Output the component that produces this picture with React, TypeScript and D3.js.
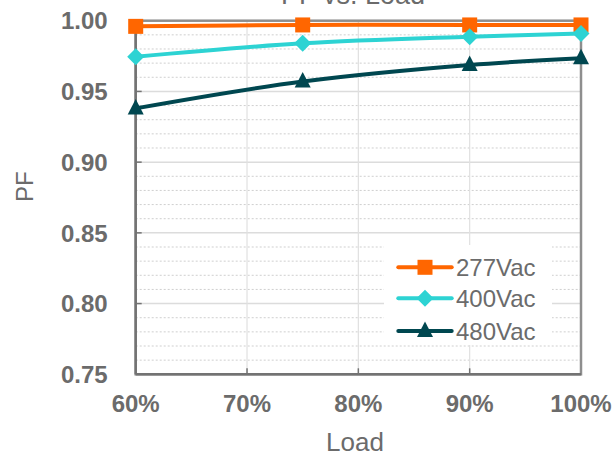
import React from "react";
import * as d3 from "d3";

const loads = [0.6, 0.75, 0.9, 1.0];
const series277 = [0.996, 0.997, 0.997, 0.997];
const series400 = [0.9745, 0.984, 0.9887, 0.991];
const series480 = [0.938, 0.957, 0.9687, 0.9734];
const seriesNames = ["277Vac", "400Vac", "480Vac"];
const xTicks = [0.6, 0.7, 0.8, 0.9, 1.0];
const yTicks = [0.75, 0.8, 0.85, 0.9, 0.95, 1.0];
const yMinor = d3.range(76, 100).map((v) => v / 100);

const W = 612;
const H = 457;
const L = 135.7, R = 581, T = 20.7, B = 374.3;
const colors = ["#FF6600", "#2DD3D3", "#004750"];
const textGray = "#6b6b6b";

function Marker({ kind, x, y, color }: { kind: number; x: number; y: number; color: string }) {
  if (kind === 0) return <rect x={x - 7.5} y={y - 7.5} width={15} height={15} fill={color} />;
  if (kind === 1)
    return <path d={`M${x},${y - 8.5}L${x + 8.5},${y}L${x},${y + 8.5}L${x - 8.5},${y}Z`} fill={color} />;
  return <path d={`M${x},${y - 9.5}L${x + 8},${y + 6}L${x - 8},${y + 6}Z`} fill={color} />;
}

export default function App() {
  const x = d3.scaleLinear().domain([0.6, 1.0]).range([L, R]);
  const y = d3.scaleLinear().domain([0.75, 1.0]).range([B, T]);
  const all = [series277, series400, series480];
  const line = d3
    .line<number>()
    .x((_, i) => x(loads[i]))
    .y((d) => y(d))
    .curve(d3.curveCatmullRom.alpha(0.5));
  const font = "Arial, 'Liberation Sans', sans-serif";
  return (
    <svg width={W} height={H} style={{ position: "absolute", left: 0, top: 0 }} fontFamily={font}>
      <rect x={0} y={0} width={W} height={H} fill="#fff" />
      {yMinor
        .filter((v) => Math.round(v * 100) % 5 !== 0)
        .map((v) => (
          <line key={"m" + v} x1={L} x2={R} y1={y(v)} y2={y(v)} stroke="#cfcfcf" strokeWidth={1} strokeDasharray="2,2" />
        ))}
      {yTicks.slice(1, -1).map((v) => (
        <line key={"M" + v} x1={L} x2={R} y1={y(v)} y2={y(v)} stroke="#dcdcdc" strokeWidth={1.5} />
      ))}
      {xTicks.slice(1, -1).map((v) => (
        <line key={"v" + v} x1={x(v)} x2={x(v)} y1={T} y2={B} stroke="#e0e0e0" strokeWidth={1.2} />
      ))}
      <rect x={L} y={T} width={R - L} height={B - T} fill="none" stroke="#8e8e8e" strokeWidth={2.5} />
      <line x1={L} x2={L} y1={T} y2={B} stroke="#737373" strokeWidth={2.5} />
      <line x1={L} x2={R} y1={B} y2={B} stroke="#737373" strokeWidth={2.5} />
      {yTicks.slice(1, -1).map((v) => (
        <line key={"yt" + v} x1={L} x2={L + 6} y1={y(v)} y2={y(v)} stroke="#737373" strokeWidth={1.5} />
      ))}
      {xTicks.slice(1, -1).map((v) => (
        <line key={"xt" + v} x1={x(v)} x2={x(v)} y1={B} y2={B - 6} stroke="#737373" strokeWidth={1.5} />
      ))}
      {yTicks.map((v) => (
        <text key={"yl" + v} x={L - 28} y={y(v)} dy="0.36em" textAnchor="end" fontSize={24} fontWeight="bold" fill={textGray}>
          {v.toFixed(2)}
        </text>
      ))}
      {xTicks.map((v) => (
        <text key={"xl" + v} x={x(v)} y={411.7} textAnchor="middle" fontSize={24} fontWeight="bold" fill={textGray}>
          {d3.format(".0%")(v)}
        </text>
      ))}
      <text x={353} y={3.5} textAnchor="middle" fontSize={27} fill={textGray}>
        PF vs. Load
      </text>
      <text x={355} y={451} textAnchor="middle" fontSize={26} fill={textGray}>
        Load
      </text>
      <text transform="translate(33,186.7) rotate(-90)" textAnchor="middle" fontSize={24} fill={textGray}>
        PF
      </text>
      {all.map((s, si) => (
        <g key={"s" + si}>
          <path d={line(s) || ""} fill="none" stroke={colors[si]} strokeWidth={4} />
          {s.map((v, i) => (
            <Marker key={i} kind={si} x={x(loads[i])} y={y(v)} color={colors[si]} />
          ))}
        </g>
      ))}
      <rect x={384} y={245} width={168} height={100} fill="#fff" />
      {seriesNames.map((n, i) => {
        const ly = [267.3, 298.3, 331][i];
        return (
          <g key={"lg" + n}>
            <line x1={398.3} x2={451.7} y1={ly} y2={ly} stroke={colors[i]} strokeWidth={4} strokeLinecap="round" />
            <Marker kind={i} x={425} y={ly} color={colors[i]} />
            <text x={456} y={ly} dy="0.36em" fontSize={24} fill={textGray}>
              {n}
            </text>
          </g>
        );
      })}
    </svg>
  );
}
